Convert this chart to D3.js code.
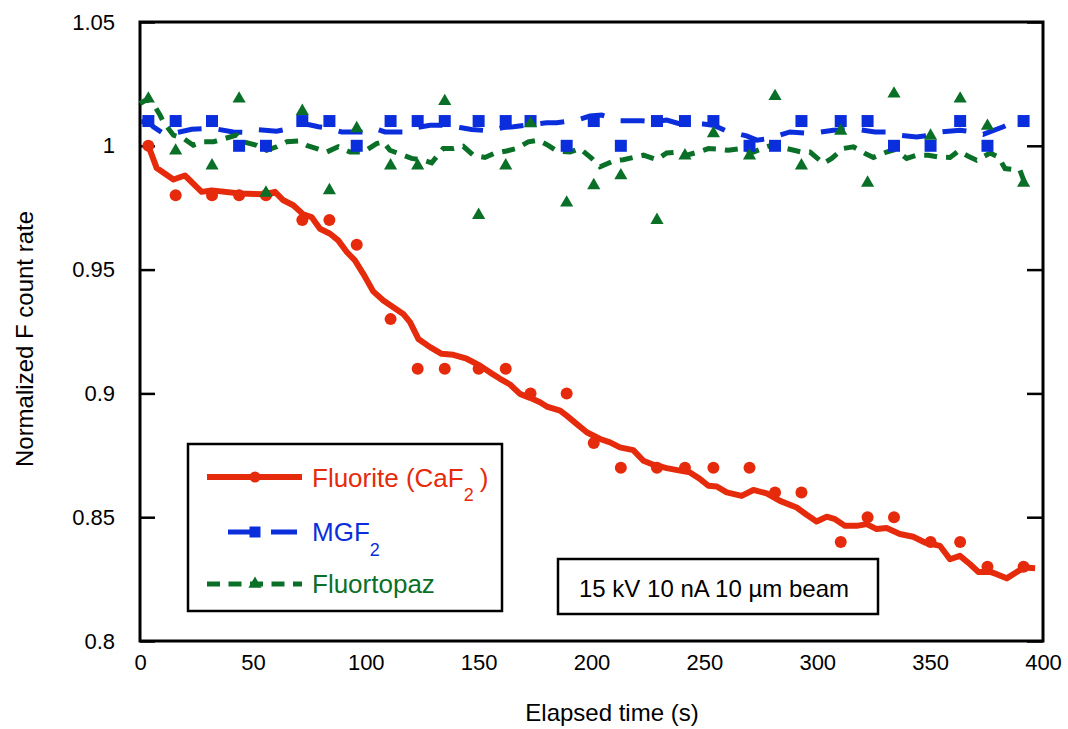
<!DOCTYPE html>
<html>
  <head>
    <title>Normalized F count rate</title>
    <script src="https://d3js.org/d3.v7.min.js"></script>
    <style>
      body { margin: 0; background: #fff; }
      text { font-family: "Liberation Sans", Arial, sans-serif; }
    </style>
  </head>

  <body>
    <svg width="1068" height="729"></svg>

    <script type="text/javascript">
    // marker times (s), shared by the three series
    var markerTimes = [3.7, 15.8, 31.9, 43.9, 55.8, 71.9, 83.9, 96, 111, 123, 135, 150, 162, 173, 189,
                       201, 213, 229, 241.4, 254, 270, 281.3, 293, 310.4, 322.3, 334, 350.2, 363.3, 375.4, 391.4];

    var fluoriteVals = [1.0, 0.98, 0.98, 0.98, 0.98, 0.97, 0.97, 0.96, 0.93, 0.91, 0.91, 0.91, 0.91, 0.90, 0.90,
                        0.88, 0.87, 0.87, 0.87, 0.87, 0.87, 0.86, 0.86, 0.84, 0.85, 0.85, 0.84, 0.84, 0.83, 0.83];

    var mgf2Vals = [1.01, 1.01, 1.01, 1.0, 1.0, 1.01, 1.01, 1.0, 1.01, 1.01, 1.01, 1.01, 1.01, 1.01, 1.0,
                    1.01, 1.0, 1.01, 1.01, 1.01, 1.0, 1.0, 1.01, 1.01, 1.01, 1.0, 1.0, 1.01, 1.0, 1.01];

    var topazVals = [1.019, 0.998, 0.992, 1.019, 0.981, 1.014, 0.982, 1.007, 0.992, 0.992, 1.018, 0.972, 0.992, 1.009, 0.977,
                     0.984, 0.988, 0.970, 0.996, 1.005, 0.996, 1.020, 0.992, 1.006, 0.985, 1.021, 1.004, 1.019, 1.008, 0.985];

    // smoothed curves [time, value]
    var fluoriteLine = [[2,1.0],[3.7,1.0],[7.4,0.991],[14.8,0.9864],[19.9,0.988],[27.3,0.9814],[31.8,0.982],[44.3,0.9807],
      [54.6,0.9804],[59.8,0.9814],[63.5,0.978],[67.9,0.976],[72.3,0.9723],[76,0.9712],[79.7,0.9665],[84.2,0.9645],
      [87.8,0.9618],[91.6,0.9571],[95.2,0.9537],[98.9,0.9483],[103.3,0.9412],[107.8,0.9375],[112.2,0.9348],[116.6,0.9321],
      [119.6,0.9288],[123.3,0.922],[128.5,0.9187],[133.6,0.916],[138.8,0.9156],[144.7,0.914],[150.6,0.9112],[155,0.9085],
      [159.5,0.9059],[163.9,0.9036],[168.3,0.8998],[172.8,0.8982],[177.2,0.8964],[180.2,0.8947],[186.1,0.893],[189,0.891],
      [193.4,0.8877],[197.9,0.8843],[203.8,0.8816],[208.2,0.8802],[212.6,0.8782],[218.5,0.8771],[223,0.8728],[227.4,0.8712],
      [233.3,0.8698],[239.2,0.8688],[243.6,0.8681],[248.1,0.8654],[251.8,0.8627],[255.5,0.8624],[259.9,0.86],[266.5,0.8586],
      [271.7,0.861],[277.6,0.8596],[283.5,0.8566],[290.9,0.8539],[295.3,0.851],[299.7,0.8483],[304.2,0.8502],[307.9,0.8492],
      [312.3,0.8465],[317.5,0.8465],[321.9,0.8472],[326.3,0.8452],[330.7,0.8456],[336.6,0.8432],[342.5,0.8421],[347.7,0.8398],
      [354.4,0.8384],[358.8,0.833],[363.2,0.8344],[367.7,0.831],[371.4,0.8279],[376.6,0.8279],[379.5,0.827],[383.9,0.8253],
      [388.4,0.8279],[392,0.8297],[396.5,0.8294]];

    var mgf2Line = [[0.5,1.0097],[3.7,1.0097],[5.9,1.0077],[10.3,1.005],[14,1.005],[17,1.0055],[22.9,1.0067],[32.5,1.007],
      [41.3,1.0056],[46.5,1.0054],[51.7,1.0066],[60.5,1.0059],[66.4,1.007],[70.9,1.009],[75,1.0085],[79,1.0077],[84.2,1.007],
      [89.3,1.0056],[98.9,1.0056],[104.1,1.007],[108.5,1.0056],[117.4,1.0056],[122.6,1.0074],[128.5,1.0083],[135.8,1.0083],
      [141.7,1.0074],[146.9,1.0066],[155,1.006],[160.9,1.0074],[165.4,1.0077],[175,1.0088],[180.2,1.0093],[184.6,1.0093],
      [193.4,1.0104],[199.3,1.012],[204.5,1.0124],[212.6,1.0101],[222.2,1.0101],[227.4,1.0097],[233.3,1.0104],[238.5,1.009],
      [243.6,1.009],[249.5,1.0088],[254,1.0083],[259.9,1.0059],[268.7,1.004],[273.2,1.0023],[279.1,1.003],[287.9,1.0056],
      [297.5,1.005],[307.1,1.0063],[317.5,1.0067],[325.6,1.0056],[330.7,1.0056],[335.9,1.0043],[344,1.0036],[350,1.0043],
      [355.1,1.0056],[363.2,1.0063],[369.1,1.0056],[373.5,1.0046],[382.4,1.0077],[388.3,1.0104],[393.5,1.0104]];

    var topazLine = [[0,1.0171],[3.7,1.019],[6.5,1.016],[8.9,1.0124],[10.3,1.0097],[14.8,1.0043],[19.2,1.003],[23.6,1.0002],
      [28,1.0016],[32.5,1.0016],[37.7,1.003],[42.8,1.0043],[45.8,1.0016],[51.7,1.0002],[56.1,0.9982],[60.5,0.9996],[65,1.0016],
      [70.1,1.0019],[73.8,1.0002],[78.3,0.9989],[82.7,0.9975],[87.8,0.9996],[93,0.9975],[98.9,0.9975],[104.8,1.0009],
      [107.8,1.0016],[110.7,0.9982],[116.6,0.9962],[120.3,0.9949],[125.5,0.9942],[129.2,0.9931],[134.3,0.9989],[138.8,0.9989],
      [143.2,0.9998],[147.6,0.9962],[152.8,0.9953],[157.3,0.9971],[162.4,0.9979],[166.8,0.9989],[172,1.0016],[176.4,1.0023],
      [180.8,1.0002],[184.6,0.9979],[190.5,0.9975],[194.9,0.9989],[200.1,0.9949],[203.8,0.9915],[209.7,0.9939],[214.1,0.9944],
      [218.5,0.9953],[223,0.9962],[228.9,0.9944],[233.3,0.9971],[238.5,0.9975],[242.2,0.9962],[247.3,0.9975],[251.8,0.9989],
      [256.2,0.9986],[260.6,0.9982],[266.5,0.9989],[271.7,0.9975],[277.6,0.9996],[282,1.0009],[286.5,0.9989],[293,0.9975],
      [296.8,0.9975],[302.7,0.9929],[306.4,0.9949],[311.5,0.9989],[316,0.9996],[321.2,0.9969],[324.9,0.9953],[330.7,0.9975],
      [334.4,0.9985],[339.6,0.9949],[344,0.9962],[349.2,0.9962],[353.6,0.9955],[358.8,0.9953],[362.5,0.9979],[366.9,0.9958],
      [370.6,0.9942],[376.6,0.9971],[380.2,0.9955],[383.2,0.9908],[389.8,0.9901],[392,0.9847],[393.9,0.9823]];

    var xTicks = [0, 50, 100, 150, 200, 250, 300, 350, 400];
    var yTicks = [0.8, 0.85, 0.9, 0.95, 1.0, 1.05];

    var red = "#e62a0c", blue = "#0b2edc", green = "#0a7028";

    var plotLeft = 140, plotRight = 1043, plotTop = 22, plotBottom = 641;

    var x = d3.scaleLinear().domain([0, 400]).range([plotLeft, plotRight]);
    var y = d3.scaleLinear().domain([0.8, 1.05]).range([plotBottom, plotTop]);

    var svg = d3.select('svg');
    var fontFam = '"Liberation Sans", Arial, sans-serif';

    // axes
    svg.append('g')
      .attr('transform', 'translate(' + plotLeft + ',0)')
      .call(d3.axisLeft(y).tickValues(yTicks).tickSizeInner(-15).tickSizeOuter(0).tickPadding(25)
        .tickFormat(function(d) { return String(+d.toFixed(2)); }))
      .call(function(g) {
        g.select('.domain').remove();
        g.selectAll('line').attr('stroke-width', 2.5);
        g.selectAll('text').attr('font-size', 22).attr('font-family', fontFam).attr('fill', '#000');
      });

    svg.append('g')
      .attr('transform', 'translate(' + plotRight + ',0)')
      .call(d3.axisRight(y).tickValues(yTicks).tickSizeInner(-16).tickSizeOuter(0).tickFormat(''))
      .call(function(g) {
        g.select('.domain').remove();
        g.selectAll('line').attr('stroke-width', 2.5);
      });

    svg.append('g')
      .attr('transform', 'translate(0,' + plotBottom + ')')
      .call(d3.axisBottom(x).tickValues(xTicks).tickSize(0).tickPadding(13))
      .call(function(g) {
        g.select('.domain').remove();
        g.selectAll('text').attr('font-size', 22).attr('font-family', fontFam).attr('fill', '#000');
      });

    // frame
    svg.append('rect')
      .attr('x', plotLeft).attr('y', plotTop)
      .attr('width', plotRight - plotLeft).attr('height', plotBottom - plotTop)
      .attr('fill', 'none').attr('stroke', '#000').attr('stroke-width', 3);

    // axis titles
    svg.append('text')
      .attr('x', 612).attr('y', 721)
      .attr('text-anchor', 'middle').attr('font-size', 24)
      .text('Elapsed time (s)');

    svg.append('text')
      .attr('transform', 'translate(33,339) rotate(-90)')
      .attr('text-anchor', 'middle').attr('font-size', 24)
      .text('Normalized F count rate');

    // lines
    var line = d3.line()
      .x(function(d) { return x(d[0]); })
      .y(function(d) { return y(d[1]); });

    svg.append('path').datum(fluoriteLine)
      .attr('d', line).attr('fill', 'none')
      .attr('stroke', red).attr('stroke-width', 6).attr('stroke-linejoin', 'round');

    svg.append('path').datum(mgf2Line)
      .attr('d', line).attr('fill', 'none')
      .attr('stroke', blue).attr('stroke-width', 5)
      .attr('stroke-dasharray', '24,17');

    svg.append('path').datum(topazLine)
      .attr('d', line).attr('fill', 'none')
      .attr('stroke', green).attr('stroke-width', 5)
      .attr('stroke-dasharray', '13,9');

    // markers
    svg.selectAll('.fl')
      .data(fluoriteVals)
      .enter().append('circle')
      .attr('cx', function(d, i) { return x(markerTimes[i]); })
      .attr('cy', function(d) { return y(d); })
      .attr('r', 6)
      .attr('fill', red);

    svg.selectAll('.mg')
      .data(mgf2Vals)
      .enter().append('path')
      .attr('d', d3.symbol().type(d3.symbolSquare).size(144))
      .attr('transform', function(d, i) { return 'translate(' + x(markerTimes[i]) + ',' + y(d) + ')'; })
      .attr('fill', blue);

    svg.selectAll('.tp')
      .data(topazVals)
      .enter().append('path')
      .attr('d', d3.symbol().type(d3.symbolTriangle).size(75))
      .attr('transform', function(d, i) { return 'translate(' + x(markerTimes[i]) + ',' + y(d) + ')'; })
      .attr('fill', green);

    // legend
    var lg = svg.append('g');
    lg.append('rect')
      .attr('x', 188).attr('y', 444).attr('width', 314).attr('height', 167)
      .attr('fill', '#fff').attr('stroke', '#000').attr('stroke-width', 2.5);

    lg.append('line').attr('x1', 207).attr('x2', 302).attr('y1', 477).attr('y2', 477)
      .attr('stroke', red).attr('stroke-width', 6);
    lg.append('circle').attr('cx', 255).attr('cy', 477).attr('r', 5.5).attr('fill', red);
    var t1 = lg.append('text').attr('x', 312).attr('y', 487).attr('font-size', 26).attr('fill', red);
    t1.append('tspan').text('Fluorite (CaF');
    t1.append('tspan').attr('dy', 14).attr('font-size', 18).text('2');
    t1.append('tspan').attr('dy', -14).attr('dx', 6).text(')');

    lg.append('line').attr('x1', 228).attr('x2', 297).attr('y1', 532).attr('y2', 532)
      .attr('stroke', blue).attr('stroke-width', 5).attr('stroke-dasharray', '32,11');
    lg.append('path').attr('d', d3.symbol().type(d3.symbolSquare).size(121))
      .attr('transform', 'translate(255,532)').attr('fill', blue);
    var t2 = lg.append('text').attr('x', 312).attr('y', 541).attr('font-size', 26).attr('fill', blue);
    t2.append('tspan').text('MGF');
    t2.append('tspan').attr('dy', 15).attr('font-size', 18).text('2');

    lg.append('line').attr('x1', 207).attr('x2', 302).attr('y1', 584).attr('y2', 584)
      .attr('stroke', green).attr('stroke-width', 5).attr('stroke-dasharray', '13,8.5');
    lg.append('path').attr('d', d3.symbol().type(d3.symbolTriangle).size(75))
      .attr('transform', 'translate(255,584)').attr('fill', green);
    lg.append('text').attr('x', 312).attr('y', 593).attr('font-size', 26).attr('fill', green)
      .text('Fluortopaz');

    // annotation box
    svg.append('rect')
      .attr('x', 558).attr('y', 559).attr('width', 320).attr('height', 55)
      .attr('fill', '#fff').attr('stroke', '#000').attr('stroke-width', 2.5);
    svg.append('text')
      .attr('x', 579).attr('y', 597).attr('font-size', 24)
      .text('15 kV 10 nA 10 \u00b5m beam');
    </script>
  </body>
</html>
